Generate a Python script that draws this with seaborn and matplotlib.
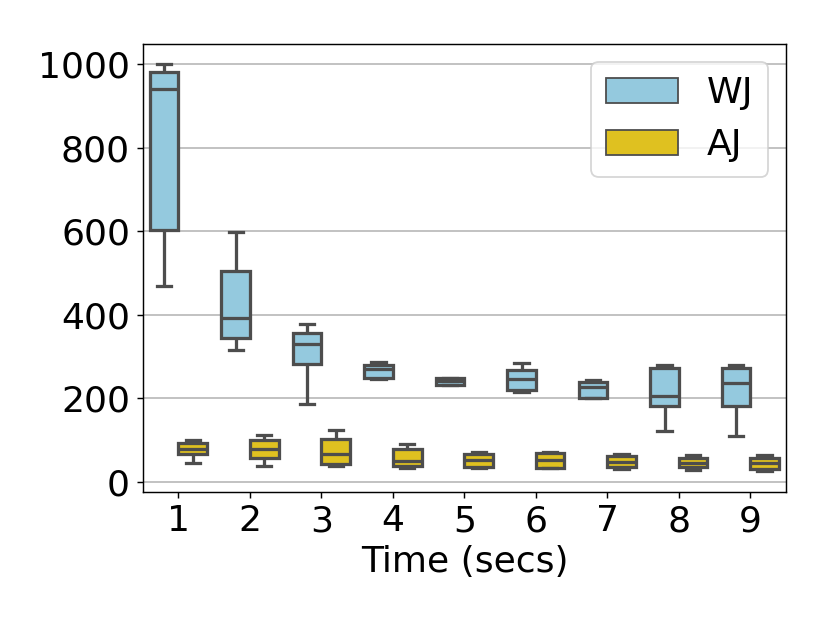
import pandas as pd
import matplotlib
matplotlib.use("Agg")
import matplotlib.pyplot as plt
import seaborn as sns
import numpy as np

times = [1, 2, 3, 4, 5, 6, 7, 8, 9]

# five points per box: lower whisker, Q1, median, Q3, upper whisker
wj = [
    [470, 603, 940, 980, 1000],
    [315, 345, 393, 505, 597],
    [186, 283, 331, 357, 377],
    [246, 249, 271, 279, 286],
    [231, 233, 242, 249, 250],
    [216, 221, 247, 267, 284],
    [200, 202, 227, 240, 243],
    [122, 183, 206, 272, 281],
    [110, 183, 237, 273, 279],
]
aj = [
    [45, 66, 78, 94, 100],
    [38, 57, 78, 100, 112],
    [38, 44, 66, 104, 124],
    [34, 38, 50, 80, 90],
    [34, 37, 53, 68, 73],
    [33, 34, 52, 69, 73],
    [31, 35, 49, 62, 66],
    [30, 35, 46, 58, 65],
    [26, 32, 46, 58, 65],
]

rows = []
for t, vals in zip(times, wj):
    for v in vals:
        rows.append({"time": t, "value": v, "type": "WJ"})
for t, vals in zip(times, aj):
    for v in vals:
        rows.append({"time": t, "value": v, "type": "AJ"})
df = pd.DataFrame(rows)

fig = plt.figure(figsize=(830 / 130, 623 / 130), dpi=130)
ax = fig.add_axes([0.172, 0.211, 0.775, 0.719])

sns.boxplot(data=df, x="time", y="value", hue="type", palette=["skyblue", "gold"],
            saturation=0.75, linecolor="#4d4d4d", linewidth=1.8, whis=10, ax=ax)

ax.yaxis.grid(True, color="#bdbdbd", linewidth=1.0)
ax.set_axisbelow(True)
ax.set_yticks([0, 200, 400, 600, 800, 1000])
ax.tick_params(labelsize=20)
ax.set_xlabel("Time (secs)", fontsize=20)
ax.set_ylabel("")
leg = ax.legend(loc="upper right", fontsize=20)
for p in leg.get_patches():
    p.set_linewidth(1.0)

fig.savefig("out.png", dpi=130)
